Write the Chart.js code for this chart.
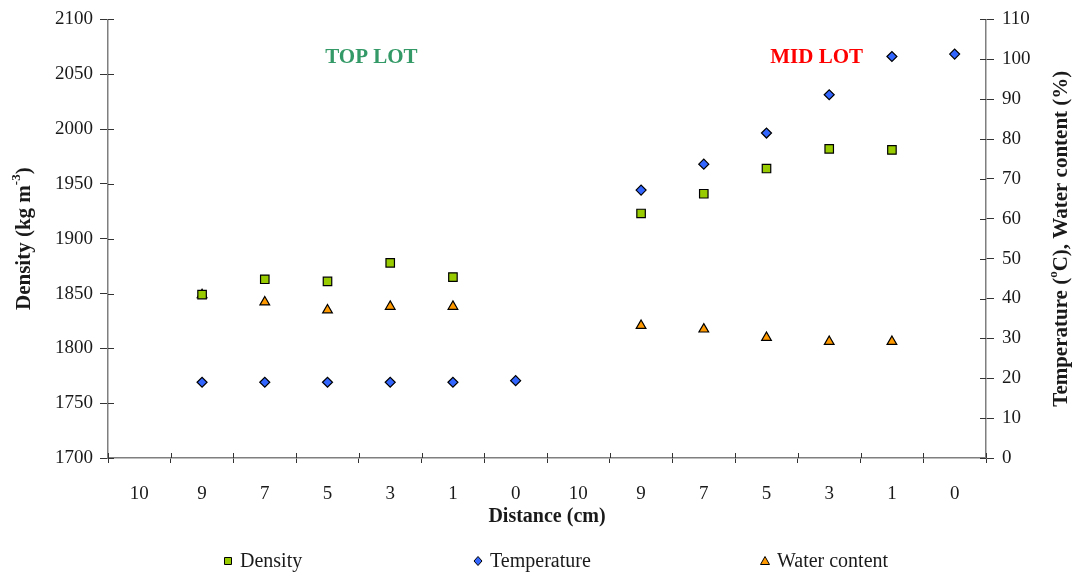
<!DOCTYPE html>
<html>
<head>
<meta charset="utf-8">
<script src="https://cdn.jsdelivr.net/npm/chart.js@4.4.1/dist/chart.umd.min.js"></script>
<style>
  html, body { margin: 0; padding: 0; background: #fff; }
  #wrap { width: 1078px; height: 575px; }
</style>
</head>
<body>
<div id="wrap"><canvas id="chart"></canvas></div>
<script>
(function () {
  'use strict';

  // ── Data ────────────────────────────────────────────────
  var distances    = ['10', '9', '7', '5', '3', '1', '0', '10', '9', '7', '5', '3', '1', '0'];
  var density      = [null, 1849, 1863, 1861, 1878, 1865, null, null, 1923, 1941, 1964, 1982, 1981, null];
  var temperature  = [null, 19, 19, 19, 19, 19, 19.4, null, 67.2, 73.7, 81.5, 91.1, 100.7, 101.3];
  var waterContent = [null, 40.9, 39.1, 37.1, 38, 38, null, null, 33.2, 32.3, 30.2, 29.2, 29.2, null];

  var densityRange = { min: 1700, max: 2100, step: 50 };
  var rightRange   = { min: 0, max: 110, step: 10 };

  var lotLabels = [
    { text: 'TOP LOT', at: 3.7,  color: '#339966' },
    { text: 'MID LOT', at: 10.8, color: '#ff0000' }
  ];

  // ── Style ───────────────────────────────────────────────
  var SERIF  = '"Liberation Serif", "DejaVu Serif", serif';
  var INK    = '#1a1a1a';
  var AXIS   = '#7f7f7f';
  var GREEN  = '#99cc00';
  var BLUE   = '#3366ff';
  var ORANGE = '#ff9900';

  var tickFont  = { family: SERIF, size: 19 };
  var titleFont = { family: SERIF, size: 20, weight: 'bold' };

  function plain(v) { return String(v); }

  // text with a raised part, centred on x
  function drawRich(ctx, parts, x, y, size) {
    var total = 0;
    parts.forEach(function (p) {
      ctx.font = 'bold ' + (p.sup ? size * 0.62 : size) + 'px ' + SERIF;
      p.w = ctx.measureText(p.t).width;
      total += p.w;
    });
    var cx = x - total / 2;
    parts.forEach(function (p) {
      ctx.font = 'bold ' + (p.sup ? size * 0.62 : size) + 'px ' + SERIF;
      ctx.fillText(p.t, cx, p.sup ? y - size * 0.38 : y);
      cx += p.w;
    });
  }

  function marker(ctx, kind, x, y, color) {
    ctx.save();
    ctx.fillStyle = color;
    ctx.strokeStyle = '#000';
    ctx.lineWidth = 1;
    ctx.beginPath();
    if (kind === 'rect') {
      ctx.rect(x - 3.5, y - 3.5, 7, 7);
    } else if (kind === 'rectRot') {
      ctx.moveTo(x, y - 4.5); ctx.lineTo(x + 4, y); ctx.lineTo(x, y + 4.5); ctx.lineTo(x - 4, y);
      ctx.closePath();
    } else {
      ctx.moveTo(x, y - 4.5); ctx.lineTo(x + 4.5, y + 3.5); ctx.lineTo(x - 4.5, y + 3.5);
      ctx.closePath();
    }
    ctx.fill();
    ctx.stroke();
    ctx.restore();
  }

  // ── Extras: crossing ticks, axis titles, lot labels, legend ──
  var extras = {
    id: 'extras',
    afterDraw: function (chart) {
      var ctx = chart.ctx;
      var a = chart.chartArea;
      var x = chart.scales.x, yl = chart.scales.y, yr = chart.scales.y1;

      ctx.save();
      ctx.strokeStyle = '#333';
      ctx.lineWidth = 1;
      ctx.beginPath();
      yl.ticks.forEach(function (t) {
        var py = Math.round(yl.getPixelForValue(t.value)) + 0.5;
        ctx.moveTo(a.left, py); ctx.lineTo(a.left + 6, py);
      });
      yr.ticks.forEach(function (t) {
        var py = Math.round(yr.getPixelForValue(t.value)) + 0.5;
        ctx.moveTo(a.right - 6, py); ctx.lineTo(a.right, py);
      });
      for (var i = 0; i <= distances.length; i++) {
        var px = Math.round(x.getPixelForValue(i - 0.5)) + 0.5;
        ctx.moveTo(px, a.bottom - 5); ctx.lineTo(px, a.bottom);
      }
      ctx.stroke();

      // axis titles
      ctx.fillStyle = INK;
      ctx.textBaseline = 'middle';
      ctx.textAlign = 'left';
      var midY = (a.top + a.bottom) / 2;

      ctx.save();
      ctx.translate(25, midY);
      ctx.rotate(-Math.PI / 2);
      drawRich(ctx, [{ t: 'Density (kg m' }, { t: '-3', sup: true }, { t: ')' }], 0, 0, 21);
      ctx.restore();

      ctx.save();
      ctx.translate(1062, midY);
      ctx.rotate(-Math.PI / 2);
      drawRich(ctx, [{ t: 'Temperature (' }, { t: 'o', sup: true }, { t: 'C), Water content (%)' }], 0, 0, 21);
      ctx.restore();

      // lot labels
      ctx.textAlign = 'center';
      ctx.font = 'bold 21px ' + SERIF;
      lotLabels.forEach(function (l) {
        ctx.fillStyle = l.color;
        ctx.fillText(l.text, x.getPixelForValue(l.at), a.top + 38);
      });

      // legend
      var slots = [228, 478, 765];
      ctx.textAlign = 'left';
      ctx.font = '20px ' + SERIF;
      chart.data.datasets.forEach(function (ds, k) {
        marker(ctx, ds.pointStyle, slots[k], 561, ds.backgroundColor);
        ctx.fillStyle = INK;
        ctx.fillText(ds.label, slots[k] + 12, 562);
      });
      ctx.restore();
    }
  };

  function pointSet(label, data, axis, style, color, radius) {
    return {
      label: label,
      data: data,
      yAxisID: axis,
      showLine: false,
      pointStyle: style,
      pointRadius: radius,
      pointHoverRadius: radius,
      backgroundColor: color,
      borderColor: '#000',
      pointBorderWidth: 1.2
    };
  }

  new Chart(document.getElementById('chart'), {
    type: 'line',
    data: {
      labels: distances,
      datasets: [
        pointSet('Density', density, 'y', 'rect', GREEN, 6),
        pointSet('Temperature', temperature, 'y1', 'rectRot', BLUE, 5),
        pointSet('Water content', waterContent, 'y1', 'triangle', ORANGE, 5.6)
      ]
    },
    options: {
      responsive: true,
      maintainAspectRatio: false,
      animation: false,
      layout: { padding: { top: 18, bottom: 0, left: 0, right: 0 } },
      plugins: {
        legend: { display: false },
        tooltip: { enabled: false }
      },
      scales: {
        x: {
          offset: true,
          grid: { offset: true, drawOnChartArea: false, tickLength: 5, color: '#333' },
          border: { color: AXIS, width: 1.5 },
          ticks: { font: tickFont, color: INK, padding: 20, maxRotation: 0, autoSkip: false },
          title: { display: true, text: 'Distance (cm)', font: titleFont, color: INK, padding: { top: 0, bottom: 46 } },
          afterFit: function (s) { s.height = 117; }
        },
        y: {
          position: 'left',
          min: densityRange.min, max: densityRange.max,
          grid: { drawOnChartArea: false, tickLength: 8, color: '#333' },
          border: { color: AXIS, width: 1.5 },
          ticks: { stepSize: densityRange.step, font: tickFont, color: INK, padding: 7, callback: plain },
          afterFit: function (s) { s.width = 108; }
        },
        y1: {
          position: 'right',
          min: rightRange.min, max: rightRange.max,
          grid: { drawOnChartArea: false, tickLength: 8, color: '#333' },
          border: { color: AXIS, width: 1.5 },
          ticks: { stepSize: rightRange.step, font: tickFont, color: INK, padding: 8, callback: plain },
          afterFit: function (s) { s.width = 92; }
        }
      }
    },
    plugins: [extras]
  });
}());
</script>
</body>
</html>
